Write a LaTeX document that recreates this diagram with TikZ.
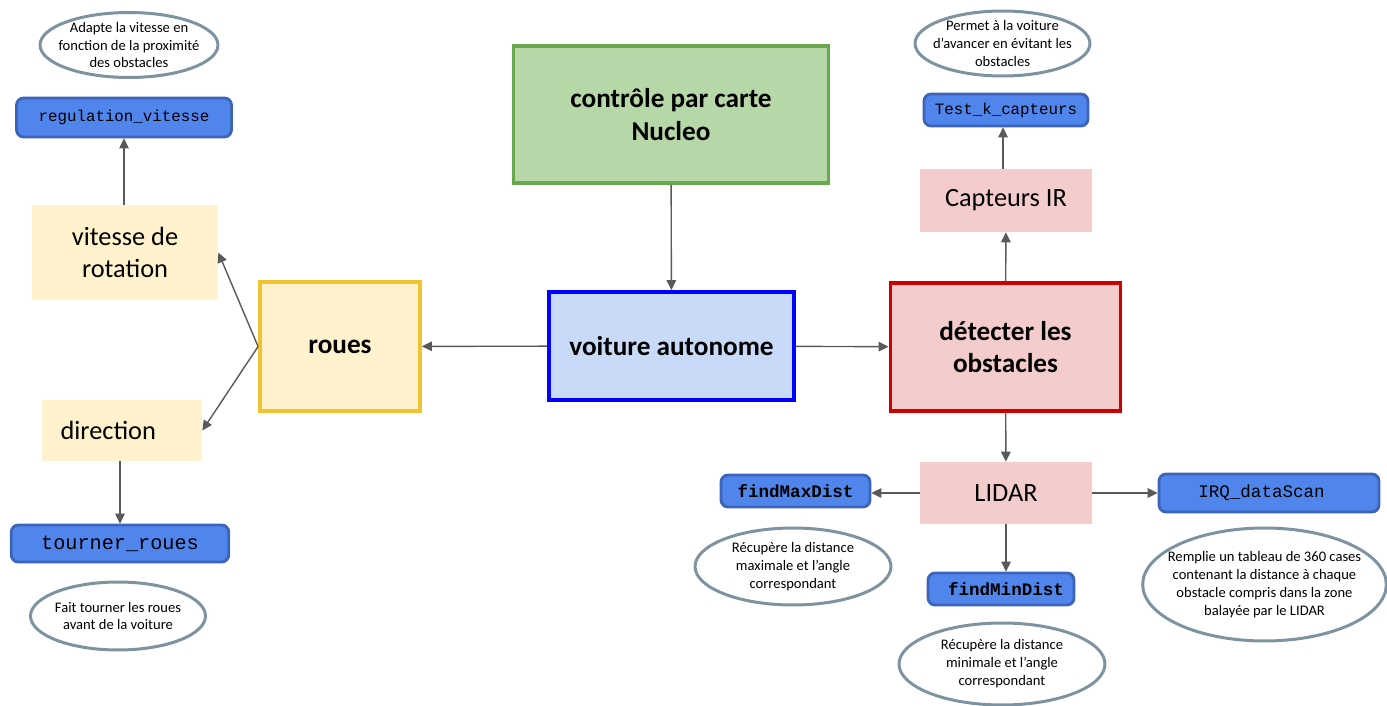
\documentclass[tikz,border=0pt]{standalone}
\usepackage{fontspec}
\setmainfont{Carlito}
\setmonofont{Liberation Mono}
\usepackage{tikz}
\usetikzlibrary{positioning, arrows.meta, shapes.geometric, calc}
\definecolor{flechecolor}{RGB}{89,89,89}
\definecolor{codefill}{RGB}{80,133,236}
\definecolor{codeborder}{RGB}{60,100,185}
\definecolor{ellborder}{RGB}{125,147,160}
\definecolor{jaunefill}{RGB}{255,242,204}
\definecolor{jauneborder}{RGB}{241,194,50}
\definecolor{bleufill}{RGB}{201,218,248}
\definecolor{vertfill}{RGB}{182,215,168}
\definecolor{vertborder}{RGB}{106,168,79}
\definecolor{rosefill}{RGB}{244,204,204}
\definecolor{rougeborder}{RGB}{204,0,0}

\begin{document}
\begin{tikzpicture}[
    x=0.02cm, y=-0.02cm,
    bloc/.style={draw, rectangle, line width=2.2pt, font=\fontsize{15.5}{18.5}\selectfont\bfseries, align=center, inner sep=0pt},
    sousbloc/.style={rectangle, fill=jaunefill, font=\fontsize{15}{18}\selectfont, align=center, inner sep=0pt},
    code/.style={draw=codeborder, fill=codefill, rectangle, rounded corners=4pt, line width=1.6pt, font=\ttfamily, inner sep=0pt},
    bulle/.style={draw=ellborder, fill=white, ellipse, line width=1.7pt, font=\fontsize{8.3}{10.2}\selectfont, align=center, inner xsep=-6pt, inner ysep=-3pt},
    arrow/.style={-{Triangle[length=2mm, width=1.9mm]}, line width=0.8pt, flechecolor}
]
    \useasboundingbox (0,0) rectangle (1387,706);

    % Blocs principaux
    \node[bloc, fill=vertfill, draw=vertborder, minimum width=6.3cm, minimum height=2.74cm] (controle) at (671,114.5) {contrôle par carte\\Nucleo};
    \node[bloc, fill=bleufill, draw=blue, minimum width=4.9cm, minimum height=2.16cm] (voiture) at (671.5,346) {voiture autonome};
    \node[bloc, fill=jaunefill, draw=jauneborder, minimum width=3.2cm, minimum height=2.58cm] (roues) at (340,346.5) {roues};
    \node[bloc, fill=rosefill, draw=rougeborder, minimum width=4.6cm, minimum height=2.56cm] (detecter) at (1005.5,347) {détecter les\\obstacles};

    % Roues
    \node[sousbloc, minimum width=3.72cm, minimum height=1.9cm] (vitesse) at (125,252.5) {vitesse de\\rotation};
    \node[sousbloc, minimum width=3.2cm, minimum height=1.22cm] (direction) at (122,430.5) {direction\hspace*{0.55cm}};
    \node[code, minimum width=4.3cm, minimum height=0.78cm, font=\ttfamily\fontsize{9}{11}\selectfont] (regulation) at (124,117.5) {regulation\_vitesse};
    \node[code, minimum width=4.35cm, minimum height=0.74cm, font=\ttfamily\fontsize{11.5}{13}\selectfont] (tourner) at (120,543.5) {tourner\_roues};
    \node[bulle, minimum width=3.56cm, minimum height=1.3cm] (adapte) at (129,45) {Adapte la vitesse en\\fonction de la proximité\\des obstacles};
    \node[bulle, minimum width=3.5cm, minimum height=1.36cm] (fait) at (118,616) {Fait tourner les roues\\avant de la voiture};

    % Capteurs
    \node[sousbloc, fill=rosefill, minimum width=3.44cm, minimum height=1.26cm] (capteurs) at (1006,200.5) {Capteurs IR};
    \node[code, minimum width=3.28cm, minimum height=0.64cm, font=\ttfamily\fontsize{9}{11}\selectfont] (test) at (1006,110) {Test\_k\_capteurs};
    \node[bulle, minimum width=3.5cm, minimum height=1.3cm] (permet) at (1002.5,43.5) {Permet à la voiture\\d'avancer en évitant les\\obstacles};

    % LIDAR
    \node[sousbloc, fill=rosefill, minimum width=3.44cm, minimum height=1.24cm] (lidar) at (1006,493) {LIDAR};
    \node[code, minimum width=2.98cm, minimum height=0.64cm, font=\ttfamily\bfseries\fontsize{10}{12}\selectfont] (findmax) at (795.5,491) {findMaxDist};
    \node[code, minimum width=2.92cm, minimum height=0.64cm, font=\ttfamily\bfseries\fontsize{10}{12}\selectfont] (findmin) at (1001,589) {\hspace*{0.2cm}findMinDist};
    \node[code, minimum width=4.4cm, minimum height=0.76cm, font=\ttfamily\fontsize{10}{12}\selectfont] (irq) at (1269,493) {IRQ\_dataScan\hspace*{0.3cm}};
    \node[bulle, minimum width=3.92cm, minimum height=1.54cm] (maxdist) at (793,566.5) {Récupère la distance\\maximale et l'angle\\correspondant};
    \node[bulle, minimum width=4.12cm, minimum height=1.64cm] (mindist) at (1002,664) {Récupère la distance\\minimale et l'angle\\correspondant};
    \node[bulle, minimum width=4.8cm, minimum height=2.26cm] (irqdesc) at (1264.5,584.5) {Remplie un tableau de 360 cases\\contenant la distance à chaque\\obstacle compris dans la zone\\balayée par le LIDAR};

    % Flèches
    \draw[arrow] (controle) -- (voiture);
    \draw[arrow] (voiture) -- (roues);
    \draw[arrow] (voiture) -- (detecter);
    \draw[arrow] (roues.west) -- (vitesse.east);
    \draw[arrow] (roues.west) -- (direction.east);
    \draw[arrow] (vitesse.north -| regulation) -- (regulation);
    \draw[arrow] (direction.south -| tourner) -- (tourner);
    \draw[arrow] (detecter) -- (capteurs);
    \draw[arrow] ([xshift=-0.06cm]capteurs.north) -- ([xshift=-0.06cm]test.south);
    \draw[arrow] (detecter) -- (lidar);
    \draw[arrow] (lidar.west) -- (lidar.west -| findmax.east);
    \draw[arrow] (lidar.east) -- (lidar.east -| irq.west);
    \draw[arrow] (lidar.south) -- (lidar.south |- findmin.north);
\end{tikzpicture}
\end{document}
